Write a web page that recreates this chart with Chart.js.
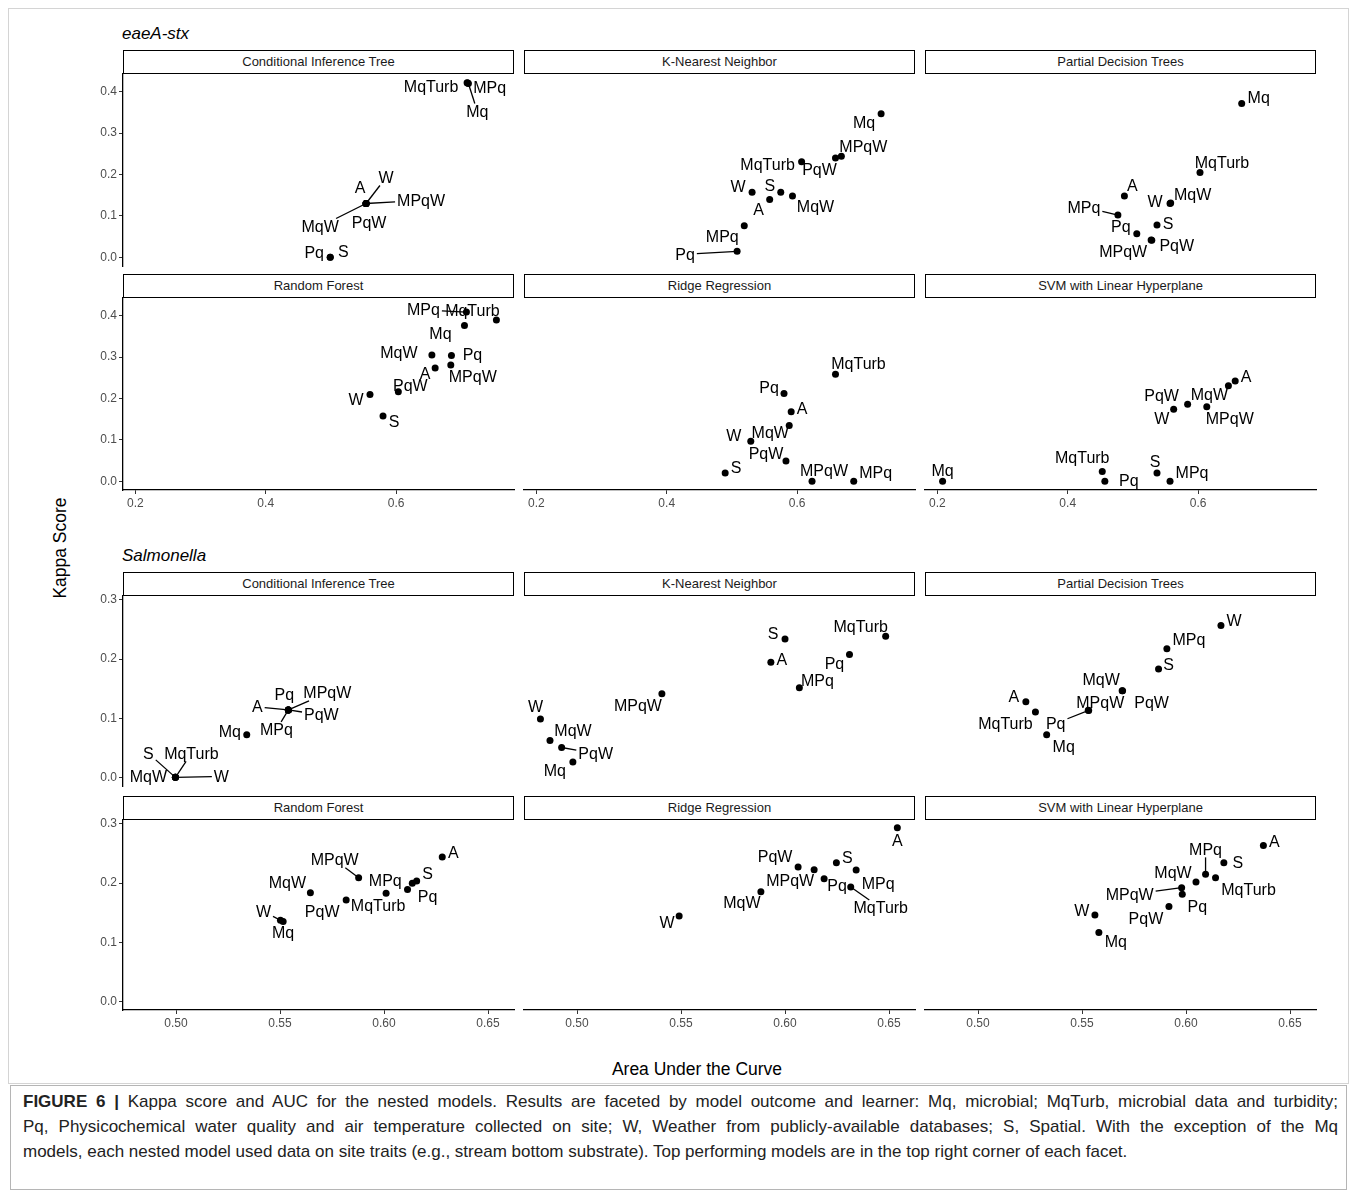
<!DOCTYPE html>
<html>
<head>
<meta charset="utf-8">
<script src="https://cdn.jsdelivr.net/npm/chart.js@4.4.0/dist/chart.umd.min.js"></script>
<style>
  body { margin: 0; background: #fff; font-family: "Liberation Sans", Arial, sans-serif; }
  #fig { position: relative; width: 1357px; height: 1197px; overflow: hidden; }
  .frame { position: absolute; left: 8px; top: 8px; width: 1339px; height: 1074px; border: 1px solid #d4d4d4; }
  .strip { position: absolute; box-sizing: border-box; border: 1.2px solid #000; background: #fff;
           font-size: 13px; color: #1a1a1a; text-align: center; line-height: 22px; }
  .group { position: absolute; font-style: italic; font-size: 17px; line-height: 20px; color: #000; }
  .axis-title { position: absolute; font-size: 17.5px; color: #000; white-space: nowrap; }
  canvas { position: absolute; }
  .caption { position: absolute; left: 10px; top: 1085px; width: 1337px; height: 105px; box-sizing: border-box;
             border: 1px solid #b5b5b5; padding: 3px 0 0 12px; font-size: 17px; line-height: 25px; color: #222; }
  .caption div { width: 1315px; white-space: nowrap; }
  .caption .just { text-align: justify; text-align-last: justify; white-space: normal; }
</style>
</head>
<body>
<div id="fig">
  <div class="frame"></div>
  <div class="group" style="left:122px;top:24px;">eaeA-stx</div>
  <div class="group" style="left:122px;top:546px;">Salmonella</div>
  <div class="axis-title" style="left:60px;top:548px;transform:translate(-50%,-50%) rotate(-90deg);">Kappa Score</div>
  <div class="axis-title" style="left:697px;top:1069px;transform:translate(-50%,-50%);">Area Under the Curve</div>
  <div class="caption">
    <div class="just"><b>FIGURE 6 |</b> Kappa score and AUC for the nested models. Results are faceted by model outcome and learner: Mq, microbial; MqTurb, microbial data and turbidity;</div>
    <div class="just">Pq, Physicochemical water quality and air temperature collected on site; W, Weather from publicly-available databases; S, Spatial. With the exception of the Mq</div>
    <div>models, each nested model used data on site traits (e.g., stream bottom substrate). Top performing models are in the top right corner of each facet.</div>
  </div>
</div>
<script>
// model order used by every value array below
const models = ['Mq', 'MqTurb', 'MPq', 'MPqW', 'MqW', 'Pq', 'PqW', 'W', 'S', 'A'];
const learners = ['Conditional Inference Tree', 'K-Nearest Neighbor', 'Partial Decision Trees',
                  'Random Forest', 'Ridge Regression', 'SVM with Linear Hyperplane'];

// eaeA-stx
const eaeCitAuc     = [0.711, 0.709, 0.710, 0.554, 0.554, 0.499, 0.554, 0.554, 0.499, 0.554];
const eaeCitKappa   = [0.420, 0.422, 0.421, 0.130, 0.130, 0.000, 0.130, 0.130, 0.000, 0.130];
const eaeKnnAuc     = [0.729, 0.607, 0.519, 0.668, 0.593, 0.508, 0.659, 0.531, 0.575, 0.558];
const eaeKnnKappa   = [0.347, 0.231, 0.076, 0.2445, 0.148, 0.0145, 0.240, 0.157, 0.157, 0.140];
const eaePartAuc    = [0.667, 0.603, 0.477, 0.528, 0.558, 0.506, 0.529, 0.557, 0.537, 0.487];
const eaePartKappa  = [0.372, 0.205, 0.102, 0.042, 0.131, 0.057, 0.041, 0.130, 0.078, 0.148];
const eaeRfAuc      = [0.705, 0.754, 0.708, 0.684, 0.655, 0.685, 0.6035, 0.560, 0.580, 0.660];
const eaeRfKappa    = [0.3765, 0.390, 0.409, 0.281, 0.305, 0.304, 0.2165, 0.210, 0.158, 0.274];
const eaeRidgeAuc   = [null, 0.659, 0.687, 0.623, 0.588, 0.580, 0.583, 0.529, 0.4897, 0.591];
const eaeRidgeKappa = [null, 0.259, 0.000, 0.000, 0.135, 0.212, 0.049, 0.097, 0.020, 0.168];
const eaeSvmAuc     = [0.208, 0.453, 0.557, 0.6134, 0.6466, 0.457, 0.584, 0.5626, 0.537, 0.657];
const eaeSvmKappa   = [0.000, 0.024, 0.000, 0.180, 0.231, 0.000, 0.186, 0.174, 0.020, 0.2424];

// Salmonella
const salCitAuc     = [0.534, 0.4997, 0.554, 0.554, 0.4997, 0.554, 0.554, 0.4997, 0.4997, 0.554];
const salCitKappa   = [0.072, 0.000, 0.114, 0.114, 0.000, 0.114, 0.114, 0.000, 0.000, 0.114];
const salKnnAuc     = [0.498, 0.6484, 0.6069, 0.5408, 0.487, 0.631, 0.4926, 0.4824, 0.600, 0.5932];
const salKnnKappa   = [0.026, 0.2386, 0.1517, 0.1415, 0.0624, 0.2076, 0.0505, 0.0986, 0.234, 0.1946];
const salPartAuc    = [0.533, 0.5276, 0.5908, 0.553, 0.5693, 0.5532, 0.5695, 0.6168, 0.5868, 0.523];
const salPartKappa  = [0.072, 0.1105, 0.2173, 0.1135, 0.1466, 0.1132, 0.1463, 0.2568, 0.1834, 0.128];
const salRfAuc      = [0.5515, 0.601, 0.6136, 0.5878, 0.5646, 0.6113, 0.5818, 0.5502, 0.6157, 0.628];
const salRfKappa    = [0.1349, 0.1826, 0.1995, 0.2091, 0.1838, 0.1889, 0.1713, 0.1371, 0.2034, 0.2439];
const salRidgeAuc   = [null, 0.6316, 0.6342, 0.614, 0.5884, 0.6188, 0.6063, 0.5491, 0.6247, 0.654];
const salRidgeKappa = [null, 0.1933, 0.2219, 0.2226, 0.1855, 0.2074, 0.227, 0.1444, 0.2344, 0.2934];
const salSvmAuc     = [0.5581, 0.6142, 0.6094, 0.5979, 0.6048, 0.5982, 0.5918, 0.5562, 0.6182, 0.6372];
const salSvmKappa   = [0.1164, 0.2091, 0.2147, 0.1922, 0.2017, 0.1809, 0.1602, 0.146, 0.2344, 0.2636];

// tick labels
const eaeXTicks = [0.2, 0.4, 0.6];
const eaeYTicks = [0.0, 0.1, 0.2, 0.3, 0.4];
const salXTicks = [0.50, 0.55, 0.60, 0.65];
const salYTicks = [0.0, 0.1, 0.2, 0.3];

// label placement (px offsets from the point, 1 = draw a leader segment), same model order
const labelNudges = {
  eaeCit:   [[9,28,1],[-36,4,0],[22,4,0],[55,-3,1],[-46,23,1],[-16,-5,0],[3,19,0],[20,-26,1],[13,-6,0],[-6,-16,0]],
  eaeKnn:   [[-17,9,0],[-34,3,0],[-22,11,0],[22,-10,0],[23,11,0],[-52,3,1],[-16,12,0],[-14,-6,0],[-11,-7,0],[-11,10,0]],
  eaePart:  [[17,-6,0],[22,-10,0],[-34,-8,1],[-28,12,0],[22,-9,0],[-16,-7,0],[25,5,0],[-15,-2,0],[11,-1,0],[8,-10,0]],
  eaeRf:    [[-24,8,0],[-24,-9,0],[-43,-2,1],[22,12,0],[-33,-3,0],[21,-1,0],[12,-6,0],[-14,5,0],[11,6,0],[-10,6,0]],
  eaeRidge: [null,[23,-11,0],[22,-9,0],[12,-11,0],[-19,7,0],[-15,-6,0],[-20,-7,1],[-17,-6,0],[11,-5,0],[11,-3,0]],
  eaeSvm:   [[0,-11,0],[-20,-14,0],[22,-9,0],[23,12,0],[-19,9,0],[24,-1,0],[-26,-9,0],[-12,9,0],[-2,-11,0],[11,-4,0]],
  salCit:   [[-17,-3,0],[16,-24,1],[-12,20,1],[39,-17,1],[-27,-1,0],[-4,-15,0],[33,5,1],[46,-1,1],[-27,-24,1],[-31,-3,1]],
  salKnn:   [[-18,9,0],[-25,-10,0],[18,-7,0],[-24,12,0],[23,-10,0],[-15,9,0],[34,6,1],[-5,-12,0],[-12,-5,0],[11,-3,0]],
  salPart:  [[17,12,0],[-30,12,0],[22,-9,0],[12,-8,0],[-21,-11,0],[-33,13,1],[29,12,0],[13,-5,0],[10,-4,0],[-12,-5,0]],
  salRf:    [[0,11,0],[-8,12,0],[-27,-3,0],[-24,-18,1],[-23,-10,0],[20,7,0],[-24,12,0],[-17,-9,1],[11,-7,0],[11,-4,0]],
  salRidge: [null,[30,21,1],[22,13,0],[-24,11,0],[-19,11,0],[13,7,0],[-23,-10,0],[-12,7,0],[11,-5,0],[0,13,0]],
  salSvm:   [[17,9,0],[33,12,0],[0,-25,1],[-52,7,1],[-23,-9,0],[15,12,0],[-23,12,0],[-13,-4,0],[14,0,0],[11,-4,0]]
};

const FONT = '"Liberation Sans", Arial, sans-serif';
const colX = [123, 524, 925];
const panelW = 391;
const groups = {
  eae: { rows: [74, 298], h: 192, x: [0.181, 0.781], y: [-0.021, 0.443], xt: eaeXTicks, yt: eaeYTicks, xDigits: 1 },
  sal: { rows: [596, 820], h: 190, x: [0.4745, 0.6625], y: [-0.0146, 0.3066], xt: salXTicks, yt: salYTicks, xDigits: 2 }
};

const panels = [
  ['eae', 0, 'eaeCit', eaeCitAuc, eaeCitKappa], ['eae', 1, 'eaeKnn', eaeKnnAuc, eaeKnnKappa],
  ['eae', 2, 'eaePart', eaePartAuc, eaePartKappa], ['eae', 3, 'eaeRf', eaeRfAuc, eaeRfKappa],
  ['eae', 4, 'eaeRidge', eaeRidgeAuc, eaeRidgeKappa], ['eae', 5, 'eaeSvm', eaeSvmAuc, eaeSvmKappa],
  ['sal', 0, 'salCit', salCitAuc, salCitKappa], ['sal', 1, 'salKnn', salKnnAuc, salKnnKappa],
  ['sal', 2, 'salPart', salPartAuc, salPartKappa], ['sal', 3, 'salRf', salRfAuc, salRfKappa],
  ['sal', 4, 'salRidge', salRidgeAuc, salRidgeKappa], ['sal', 5, 'salSvm', salSvmAuc, salSvmKappa]
];

// ggrepel-like text labels with leader segments
function drawLabels(chart, opts, pass) {
  const ctx = chart.ctx;
  const ds = chart.data.datasets[0];
  const meta = chart.getDatasetMeta(0);
  ctx.save();
  ctx.font = '16px ' + FONT;
  ctx.textAlign = 'center';
  ctx.textBaseline = 'middle';
  meta.data.forEach((pt, i) => {
    const raw = ds.data[i];
    const n = opts.nudges[raw.m];
    const cx = pt.x + n[0], cy = pt.y + n[1];
    if (pass === 'lines') {
      if (!n[2]) return;
      const hw = ctx.measureText(raw.label).width / 2 + 2, hh = 8;
      const dx = pt.x - cx, dy = pt.y - cy;
      const s = Math.max(Math.abs(dx) / hw, Math.abs(dy) / hh);
      if (s <= 1) return;
      ctx.beginPath();
      ctx.moveTo(pt.x, pt.y);
      ctx.lineTo(cx + dx / s, cy + dy / s);
      ctx.lineWidth = 1.3;
      ctx.strokeStyle = '#000';
      ctx.stroke();
    } else {
      ctx.fillStyle = '#000';
      ctx.fillText(raw.label, cx, cy + 1);
    }
  });
  ctx.restore();
}

const repelLabels = {
  id: 'repelLabels',
  beforeDatasetsDraw(chart, args, opts) { drawLabels(chart, opts, 'lines'); },
  afterDatasetsDraw(chart, args, opts) { drawLabels(chart, opts, 'text'); }
};

const fig = document.getElementById('fig');
const PAD = 14, Y_W = 45, X_H = 26;

panels.forEach(([gk, li, key, auc, kappa]) => {
  const g = groups[gk];
  const col = li % 3, row = Math.floor(li / 3);
  const top = g.rows[row];
  const showY = col === 0, showX = row === 1;

  const strip = document.createElement('div');
  strip.className = 'strip';
  strip.style.cssText = `left:${colX[col]}px;top:${top - 24}px;width:${panelW}px;height:24px;`;
  strip.textContent = learners[li];
  fig.appendChild(strip);

  const padL = showY ? 0 : PAD;
  const padB = PAD;
  const cv = document.createElement('canvas');
  const cw = panelW + (showY ? Y_W : padL) + PAD;
  const ch = g.h + PAD + (showX ? X_H : 0) + padB;
  cv.width = cw; cv.height = ch;
  cv.style.left = (colX[col] - (showY ? Y_W : padL)) + 'px';
  cv.style.top = (top - PAD) + 'px';
  fig.appendChild(cv);

  const pts = [];
  models.forEach((m, i) => {
    if (auc[i] === null) return;
    pts.push({ x: auc[i], y: kappa[i], m: i, label: m });
  });

  const tickStyle = { color: '#4d4d4d', font: { size: 12, family: FONT }, padding: 2 };
  const gridStyle = { display: true, drawOnChartArea: false, drawTicks: true, tickLength: 4, color: '#333', lineWidth: 1 };

  const xScale = {
    type: 'linear', min: g.x[0], max: g.x[1], display: showX,
    afterBuildTicks: s => { s.ticks = g.xt.map(v => ({ value: v })); },
    ticks: Object.assign({ maxRotation: 0, autoSkip: false, callback: v => v.toFixed(g.xDigits) }, tickStyle),
    grid: gridStyle,
    border: { display: true, color: '#000', width: 1.3 }
  };
  if (showX) xScale.afterFit = s => { s.height = X_H; s.paddingLeft = 0; s.paddingRight = 0; };

  const yScale = {
    type: 'linear', min: g.y[0], max: g.y[1], display: showY,
    afterBuildTicks: s => { s.ticks = g.yt.map(v => ({ value: v })); },
    ticks: Object.assign({ autoSkip: false, callback: v => v.toFixed(1) }, tickStyle),
    grid: gridStyle,
    border: { display: true, color: '#000', width: 1.3 }
  };
  if (showY) yScale.afterFit = s => { s.width = Y_W; s.paddingTop = 0; s.paddingBottom = 0; };

  new Chart(cv, {
    type: 'scatter',
    data: {
      datasets: [{
        data: pts,
        pointRadius: 3.5,
        pointHoverRadius: 3.5,
        backgroundColor: '#000',
        borderWidth: 0,
        clip: false
      }]
    },
    options: {
      responsive: false,
      animation: false,
      events: [],
      layout: { padding: { left: padL, top: PAD, right: PAD, bottom: padB } },
      plugins: {
        legend: { display: false },
        tooltip: { enabled: false },
        repelLabels: { nudges: labelNudges[key] }
      },
      scales: { x: xScale, y: yScale }
    },
    plugins: [repelLabels]
  });
});
</script>
</body>
</html>
